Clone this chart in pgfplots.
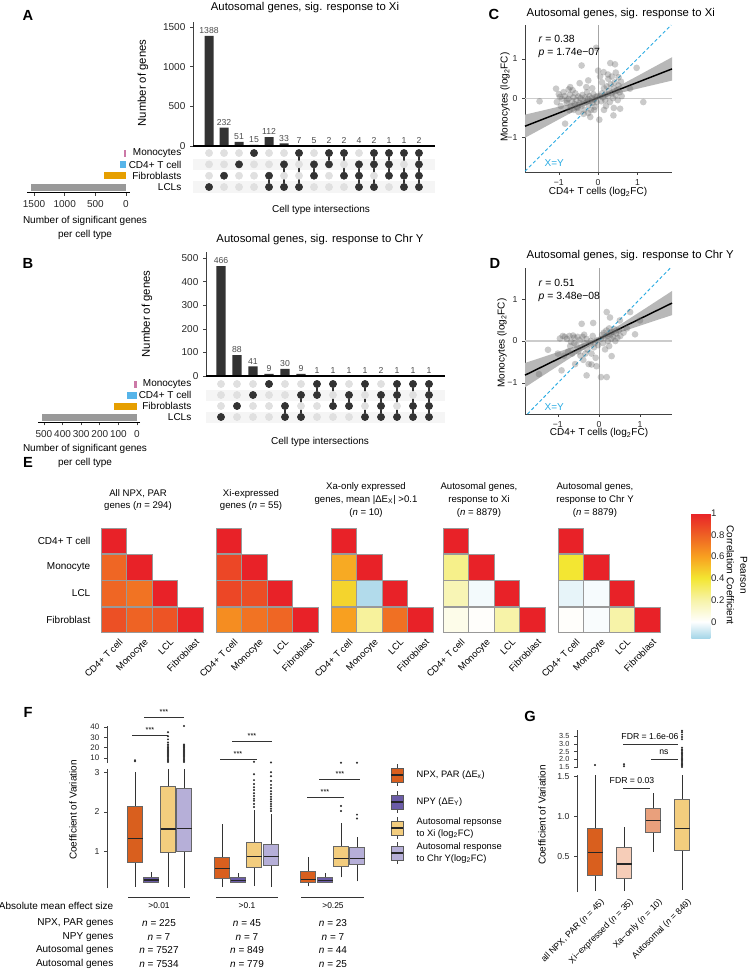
\documentclass[border=0pt]{standalone}
\usepackage{fontspec}
\setmainfont{Liberation Sans}
\usepackage{pgfplots}
\pgfplotsset{compat=1.18}
\definecolor{cM}{HTML}{CC79A7}
\definecolor{cC}{HTML}{56B4E9}
\definecolor{cF}{HTML}{E69F00}
\definecolor{cL}{HTML}{999999}
\definecolor{barc}{HTML}{333333}
\definecolor{xyc}{HTML}{29ABE2}
\definecolor{bOr}{HTML}{D95F1E}
\definecolor{bPu}{HTML}{6B5CA8}
\definecolor{bYe}{HTML}{F3CD7E}
\definecolor{bLa}{HTML}{B6AFD8}
\definecolor{gPk}{HTML}{F6CDB8}
\definecolor{gSa}{HTML}{E9A07C}
\newcommand\fs[2]{\fontsize{#1}{#2}\selectfont}
\pgfplotsset{
  colormap={pcc}{rgb255(0pt)=(166,214,232); rgb255(15pt)=(255,255,255); rgb255(35pt)=(247,243,168); rgb255(55pt)=(243,230,50); rgb255(75pt)=(248,160,32); rgb255(95pt)=(238,96,36); rgb255(115pt)=(232,34,40)},
  every axis/.append style={scale only axis, clip=false, tick align=outside, major tick length=2.2pt,
    tick style={black!75, line width=0.45pt}, axis line style={black!75, line width=0.45pt},
    ticklabel style={font=\fs{6.5}{7.5}, text=black!85},
    /pgf/number format/1000 sep={}, /pgf/number format/assume math mode=true},
  hm/.style={width=76.5pt, height=78.75pt, xmin=0.5, xmax=4.5, ymin=0.5, ymax=4.5, y dir=reverse,
    axis lines=none, xtick=\empty, ytick=\empty, colormap name=pcc, point meta min=-0.15, point meta max=1},
  hmcell/.style={scatter, only marks, mark=square*, mark size=9.56pt, point meta=explicit,
    scatter/use mapped color={draw=black!40, fill=mapped color}, mark options={line width=0.7pt}},
  dots/.style={only marks, mark=*, mark size=0.55pt, black!80},
  scat/.style={only marks, mark=*, mark size=2.5pt, mark options={draw opacity=0, fill=black!60, fill opacity=0.35}},
}
% box: left, centre, right, lower whisker, lower quartile, median, upper quartile, upper whisker, fill
\newcommand\bx[9]{%
  \addplot[black!80, line width=0.6pt] coordinates {(#2,#4)(#2,#5)};
  \addplot[black!80, line width=0.6pt] coordinates {(#2,#7)(#2,#8)};
  \addplot[fill=#9, draw=black!60, line width=0.6pt] coordinates {(#1,#5)(#3,#5)(#3,#7)(#1,#7)} -- cycle;
  \addplot[black!85, line width=0.9pt] coordinates {(#1,#6)(#3,#6)};
}
\begin{document}
\begin{tikzpicture}[x=0.75pt, y=-0.75pt]
\useasboundingbox (0,0) rectangle (748,979);
% ================= Panel A =================
\node[font=\bfseries\fs{11}{12}] at (28,15) {A};
\node[font=\fs{8.5}{10}] at (305,8) {Autosomal genes, sig. response to Xi};
\begin{axis}[at={(144.75pt,-109.5pt)}, anchor=south west, width=181.5pt, height=92.8pt,
  xmin=-0.07, xmax=16.07, ymin=0, ymax=1560, axis x line=none, axis y line*=left,
  ytick={0,500,1000,1500}, xtick=\empty, ticklabel style={font=\fs{7.5}{8.5}}]
\addplot[ybar, bar width=6.75pt, fill=barc, draw=none, nodes near coords,
  nodes near coords style={font=\fs{6.5}{7}, text=black!70, inner sep=1.5pt}]
  coordinates {(1,1388)(2,232)(3,51)(4,15)(5,112)(6,33)(7,7)(8,5)(9,2)(10,2)(11,4)(12,2)(13,1)(14,1)(15,2)};
\end{axis}
\draw[line width=1.2pt, black] (193,146)--(435,146);
\node[rotate=90, font=\fs{8.5}{10}] at (143,83) {Number of genes};
\begin{axis}[at={(144.75pt,-144.525pt)}, anchor=south west, width=181.5pt, height=34pt,
  xmin=-0.07, xmax=16.07, ymin=0.5, ymax=4.5, axis lines=none, xtick=\empty, ytick=\empty]
\fill[black!4] (axis cs:-0.07,2.5) rectangle (axis cs:16.07,3.5);
\fill[black!4] (axis cs:-0.07,0.5) rectangle (axis cs:16.07,1.5);
\addplot[only marks, mark=*, mark size=2.7pt, color=black!12] coordinates {
(1,1)(1,2)(1,3)(1,4)(2,1)(2,2)(2,3)(2,4)(3,1)(3,2)(3,3)(3,4)(4,1)(4,2)(4,3)(4,4)
(5,1)(5,2)(5,3)(5,4)(6,1)(6,2)(6,3)(6,4)(7,1)(7,2)(7,3)(7,4)(8,1)(8,2)(8,3)(8,4)
(9,1)(9,2)(9,3)(9,4)(10,1)(10,2)(10,3)(10,4)(11,1)(11,2)(11,3)(11,4)(12,1)(12,2)(12,3)(12,4)
(13,1)(13,2)(13,3)(13,4)(14,1)(14,2)(14,3)(14,4)(15,1)(15,2)(15,3)(15,4)};
\addplot[barc, line width=1.1pt, unbounded coords=jump] coordinates {
(5,1)(5,2)(nan,nan)(6,1)(6,3)(nan,nan)(7,1)(7,4)(nan,nan)(8,2)(8,3)(nan,nan)(9,3)(9,4)(nan,nan)
(10,2)(10,4)(nan,nan)(11,1)(11,3)(nan,nan)(12,1)(12,4)(nan,nan)(13,2)(13,4)(nan,nan)(14,1)(14,4)(nan,nan)(15,1)(15,4)};
\addplot[only marks, mark=*, mark size=2.7pt, color=barc] coordinates {
(1,1)(2,2)(3,3)(4,4)(5,2)(5,1)(6,3)(6,1)(7,4)(7,1)(8,3)(8,2)(9,4)(9,3)(10,4)(10,2)(11,3)(11,2)(11,1)
(12,4)(12,3)(12,1)(13,4)(13,3)(13,2)(14,4)(14,2)(14,1)(15,4)(15,3)(15,2)(15,1)};
\end{axis}
\begin{axis}[at={(20.25pt,-144.525pt)}, anchor=south west, width=77.25pt, height=34pt,
  x dir=reverse, xmin=-65, xmax=1615, ymin=0.5, ymax=4.5,
  axis x line*=bottom, axis y line=none, xtick={0,500,1000,1500}, ytick=\empty,
  ticklabel style={font=\fs{7.5}{8.5}}, axis line style={black, line width=0.6pt}]
\addplot[xbar, bar width=5.25pt, bar shift=0pt, fill=cM, draw=none] coordinates {(32,4)};
\addplot[xbar, bar width=5.25pt, bar shift=0pt, fill=cC, draw=none] coordinates {(100,3)};
\addplot[xbar, bar width=5.25pt, bar shift=0pt, fill=cF, draw=none] coordinates {(359,2)};
\addplot[xbar, bar width=5.25pt, bar shift=0pt, fill=cL, draw=none] coordinates {(1549,1)};
\end{axis}
\begin{scope}[font=\fs{7.5}{9}]
\node[anchor=east] at (186,153) {Monocytes};
\node[anchor=east] at (186,164.5) {CD4+ T cell};
\node[anchor=east] at (186,176) {Fibroblasts};
\node[anchor=east] at (186,187.5) {LCLs};
\node[align=center, font=\fs{7.5}{10}] at (85,228) {Number of significant genes\\per cell type};
\node at (321,210) {Cell type intersections};
\end{scope}
% ================= Panel B =================
\node[font=\bfseries\fs{11}{12}] at (28,263) {B};
\node[font=\fs{8.5}{10}] at (320,240) {Autosomal genes, sig. response to Chr Y};
\begin{axis}[at={(154.5pt,-282pt)}, anchor=south west, width=179.25pt, height=92.9pt,
  xmin=0.0625, xmax=15.0, ymin=0, ymax=525, axis x line=none, axis y line*=left,
  ytick={0,100,200,300,400,500}, xtick=\empty, ticklabel style={font=\fs{7.5}{8.5}}]
\addplot[ybar, bar width=7pt, fill=barc, draw=none, nodes near coords,
  nodes near coords style={font=\fs{6.5}{7}, text=black!70, inner sep=1.5pt}]
  coordinates {(1,466)(2,88)(3,41)(4,9)(5,30)(6,9)(7,1)(8,1)(9,1)(10,1)(11,2)(12,1)(13,1)(14,1)};
\end{axis}
\draw[line width=1.2pt, black] (206,376)--(445,376);
\node[rotate=90, font=\fs{8.5}{10}] at (147,314) {Number of genes};
\begin{axis}[at={(154.5pt,-316.875pt)}, anchor=south west, width=179.25pt, height=33pt,
  xmin=0.0625, xmax=15.0, ymin=0.5, ymax=4.5, axis lines=none, xtick=\empty, ytick=\empty]
\fill[black!4] (axis cs:0.0625,2.5) rectangle (axis cs:15,3.5);
\fill[black!4] (axis cs:0.0625,0.5) rectangle (axis cs:15,1.5);
\addplot[only marks, mark=*, mark size=2.7pt, color=black!12] coordinates {
(1,1)(1,2)(1,3)(1,4)(2,1)(2,2)(2,3)(2,4)(3,1)(3,2)(3,3)(3,4)(4,1)(4,2)(4,3)(4,4)
(5,1)(5,2)(5,3)(5,4)(6,1)(6,2)(6,3)(6,4)(7,1)(7,2)(7,3)(7,4)(8,1)(8,2)(8,3)(8,4)
(9,1)(9,2)(9,3)(9,4)(10,1)(10,2)(10,3)(10,4)(11,1)(11,2)(11,3)(11,4)(12,1)(12,2)(12,3)(12,4)
(13,1)(13,2)(13,3)(13,4)(14,1)(14,2)(14,3)(14,4)};
\addplot[barc, line width=1.1pt, unbounded coords=jump] coordinates {
(5,1)(5,2)(nan,nan)(6,1)(6,3)(nan,nan)(7,3)(7,4)(nan,nan)(8,2)(8,4)(nan,nan)(9,2)(9,3)(nan,nan)
(10,1)(10,4)(nan,nan)(11,1)(11,3)(nan,nan)(12,1)(12,4)(nan,nan)(13,1)(13,4)(nan,nan)(14,1)(14,4)};
\addplot[only marks, mark=*, mark size=2.7pt, color=barc] coordinates {
(1,1)(2,2)(3,3)(4,4)(5,2)(5,1)(6,3)(6,1)(7,4)(7,3)(8,4)(8,2)(9,3)(9,2)(10,4)(10,1)(11,3)(11,2)(11,1)
(12,4)(12,3)(12,1)(13,4)(13,2)(13,1)(14,4)(14,3)(14,2)(14,1)};
\end{axis}
\begin{axis}[at={(28.5pt,-316.875pt)}, anchor=south west, width=76.5pt, height=33pt,
  x dir=reverse, xmin=-16, xmax=532, ymin=0.5, ymax=4.5,
  axis x line*=bottom, axis y line=none, xtick={0,100,200,300,400,500}, ytick=\empty,
  ticklabel style={font=\fs{7.5}{8.5}}, axis line style={black, line width=0.6pt}]
\addplot[xbar, bar width=5.25pt, bar shift=0pt, fill=cM, draw=none] coordinates {(15,4)};
\addplot[xbar, bar width=5.25pt, bar shift=0pt, fill=cC, draw=none] coordinates {(56,3)};
\addplot[xbar, bar width=5.25pt, bar shift=0pt, fill=cF, draw=none] coordinates {(124,2)};
\addplot[xbar, bar width=5.25pt, bar shift=0pt, fill=cL, draw=none] coordinates {(511,1)};
\end{axis}
\begin{scope}[font=\fs{7.5}{9}]
\node[anchor=east] at (196,384) {Monocytes};
\node[anchor=east] at (196,394.5) {CD4+ T cell};
\node[anchor=east] at (196,406) {Fibroblasts};
\node[anchor=east] at (196,417) {LCLs};
\node[align=center, font=\fs{7.5}{10}] at (85,456) {Number of significant genes\\per cell type};
\node at (320,442) {Cell type intersections};
\end{scope}
% ================= Panel C =================
\node[font=\bfseries\fs{11}{12}] at (494,14) {C};
\node[anchor=west, font=\fs{8.5}{10}] at (522,14) {Autosomal genes, sig. response to Xi};
\begin{axis}[at={(393.75pt,-129pt)}, anchor=south west, width=110.25pt, height=110.25pt,
  xmin=-1.86, xmax=1.88, ymin=-1.88, ymax=1.86, axis x line*=bottom, axis y line*=left,
  xtick={-1,0,1}, xticklabels={−1,0,1}, ytick={-1,0,1}, yticklabels={−1,0,1}]
\addplot[black!35, line width=0.6pt] coordinates {(0,-1.88)(0,1.86)};
\addplot[black!20, line width=0.8pt] coordinates {(-1.86,0)(1.88,0)};
\addplot[fill=black!28, draw=none] coordinates {
(-1.86,-0.42)(-1.5,-0.336)(-1,-0.218)(-0.5,-0.097)(0,0.05)(0.5,0.293)(1,0.562)(1.5,0.834)(1.88,1.04)
(1.88,0.446)(1.5,0.356)(1,0.238)(0.5,0.117)(0,-0.03)(-0.5,-0.273)(-1,-0.542)(-1.5,-0.814)(-1.86,-1.01)} -- cycle;
\addplot[scat] table {
x y
-1.49 -0.08
-1.07 0.24
-0.84 -0.65
-0.73 -0.31
-0.71 0.28
-0.47 0.38
-0.42 0.83
-0.25 0.45
-0.05 1.28
0.0 0.70
0.14 0.66
0.26 0.49
0.31 0.89
0.43 0.86
0.52 0.53
0.98 0.77
0.81 0.24
1.15 -0.10
0.39 -0.44
0.56 -0.27
0.03 -0.55
-0.2 -0.48
-0.37 -0.40
-0.54 -0.23
-0.97 0.03
-1.05 -0.1
-0.8 -0.06
-0.92 -0.02
-0.85 0.05
-0.8 -0.12
-0.76 -0.02
-0.72 0.08
-0.7 -0.2
-0.66 -0.08
-0.63 0.02
-0.6 -0.15
-0.58 0.12
-0.55 -0.05
-0.52 -0.25
-0.5 0.04
-0.47 -0.12
-0.45 0.0
-0.42 -0.2
-0.4 0.08
-0.38 -0.06
-0.35 -0.3
-0.33 0.02
-0.3 -0.1
-0.28 0.15
-0.26 -0.02
-0.24 -0.18
-0.22 0.05
-0.2 -0.08
-0.18 -0.3
-0.16 0.0
-0.14 -0.12
-0.12 0.1
-0.1 -0.04
-0.08 -0.22
-0.06 0.03
-0.04 -0.1
-0.02 0.05
-0.65 0.2
-0.75 0.22
-0.88 0.15
-1.0 0.1
-0.95 -0.2
-0.3 0.28
-0.15 0.25
-0.5 -0.35
-0.25 -0.38
-0.1 -0.3
-0.62 -0.3
0.05 0.05
0.08 -0.08
0.1 0.12
0.12 0.02
0.15 0.25
0.18 -0.05
0.2 0.1
0.22 0.3
0.25 0.05
0.28 0.18
0.3 -0.1
0.32 0.35
0.35 0.12
0.38 0.0
0.4 0.25
0.42 0.4
0.45 0.08
0.48 0.2
0.5 -0.05
0.52 0.32
0.55 0.15
0.58 0.42
0.6 0.05
0.35 0.55
0.25 0.6
0.1 0.4
0.05 0.55
0.45 0.65
0.2 -0.2
0.4 -0.25
0.15 -0.3
};
\addplot[xyc, line width=0.7pt, dash pattern=on 2.5pt off 1.8pt] coordinates {(-1.86,-1.86)(1.86,1.86)};
\addplot[black, line width=1.1pt] coordinates {(-1.86,-0.715)(1.88,0.743)};
\end{axis}
\node[anchor=west, font=\fs{7.8}{9}] at (534,39) {\textit{r} = 0.38};
\node[anchor=west, font=\fs{7.8}{9}] at (534,53) {\textit{p} = 1.74e−07};
\node[anchor=west, font=\fs{7.5}{9}, text=xyc] at (540,163) {X=Y};
\node[font=\fs{7.5}{9}] at (598,192) {CD4+ T cells (log\textsubscript{2}FC)};
\node[rotate=90, font=\fs{7.5}{9}] at (505,97) {Monocytes (log\textsubscript{2}FC)};
% ================= Panel D =================
\node[font=\bfseries\fs{11}{12}] at (495,263) {D};
\node[anchor=west, font=\fs{8.5}{10}] at (522,256) {Autosomal genes, sig. response to Chr Y};
\begin{axis}[at={(393.75pt,-310.5pt)}, anchor=south west, width=110.25pt, height=109.5pt,
  xmin=-1.8, xmax=1.78, ymin=-1.74, ymax=1.74, axis x line*=bottom, axis y line*=left,
  xtick={-1,0,1}, xticklabels={−1,0,1}, ytick={-1,0,1}, yticklabels={−1,0,1}]
\addplot[black!35, line width=0.6pt] coordinates {(0,-1.74)(0,1.74)};
\addplot[black!20, line width=0.8pt] coordinates {(-1.8,0)(1.78,0)};
\addplot[fill=black!28, draw=none] coordinates {
(-1.8,-0.523)(-1.5,-0.427)(-1,-0.265)(-0.5,-0.101)(0,0.09)(0.5,0.379)(1,0.695)(1.5,1.013)(1.78,1.192)
(1.78,0.616)(1.5,0.527)(1,0.365)(0.5,0.201)(0,0.01)(-0.5,-0.279)(-1,-0.595)(-1.5,-0.913)(-1.8,-1.105)} -- cycle;
\addplot[scat] table {
x y
-1.46 -0.79
-1.24 -0.21
-0.91 -0.7
-0.95 0.06
-0.83 0.1
-0.63 0.13
-0.42 0.41
-0.14 0.43
-0.3 -0.82
-0.18 -0.56
-0.06 -0.6
0.05 -0.86
0.19 -0.86
0.31 -0.36
0.19 0.69
0.27 0.56
0.51 0.49
0.76 0.69
0.88 0.16
1.0 0.49
-0.88 0.12
-0.78 0.05
-0.72 0.12
-0.68 -0.02
-0.6 0.08
-0.55 -0.1
-0.52 0.1
-0.5 -0.25
-0.47 0.02
-0.45 -0.35
-0.42 -0.15
-0.4 0.1
-0.38 -0.45
-0.35 -0.05
-0.33 -0.3
-0.3 0.05
-0.28 -0.2
-0.25 -0.55
-0.22 -0.08
-0.2 0.0
-0.18 -0.3
-0.15 0.12
-0.12 -0.15
-0.1 -0.05
-0.08 -0.4
-0.05 0.02
-0.02 -0.1
-0.65 -0.3
-0.75 -0.25
-0.85 -0.35
-1.0 -0.3
-0.58 -0.55
-0.7 -0.12
-0.36 0.15
-0.6 -0.05
0.05 0.05
0.08 0.15
0.1 -0.05
0.12 0.2
0.15 0.08
0.18 0.25
0.2 0.12
0.22 0.0
0.25 0.3
0.28 0.15
0.3 0.05
0.32 0.22
0.35 0.1
0.38 0.28
0.4 0.0
0.42 0.18
0.45 0.08
0.48 0.25
0.52 0.12
0.6 0.2
0.25 -0.12
0.15 -0.2
0.68 0.3
};
\addplot[xyc, line width=0.7pt, dash pattern=on 2.5pt off 1.8pt] coordinates {(-1.74,-1.74)(1.74,1.74)};
\addplot[black, line width=1.1pt] coordinates {(-1.8,-0.814)(1.78,0.904)};
\end{axis}
\node[anchor=west, font=\fs{7.8}{9}] at (534,283) {\textit{r} = 0.51};
\node[anchor=west, font=\fs{7.8}{9}] at (534,297) {\textit{p} = 3.48e−08};
\node[anchor=west, font=\fs{7.5}{9}, text=xyc] at (540,407) {X=Y};
\node[font=\fs{7.5}{9}] at (599,433) {CD4+ T cells (log\textsubscript{2}FC)};
\node[rotate=90, font=\fs{7.5}{9}] at (502,343) {Monocytes (log\textsubscript{2}FC)};
% ================= Panel E =================
\node[font=\bfseries\fs{11}{12}] at (28,462) {E};
\begin{axis}[hm, at={(75.75pt,-474.75pt)}, anchor=south west]
\addplot[hmcell] table[meta=v] {
x y v
1 1 1
1 2 0.78
2 2 1
1 3 0.78
2 3 0.74
3 3 1
1 4 0.85
2 4 0.79
3 4 0.84
4 4 1
};
\end{axis}
\begin{axis}[hm, at={(162pt,-474.75pt)}, anchor=south west]
\addplot[hmcell] table[meta=v] {
x y v
1 1 1
1 2 0.88
2 2 1
1 3 0.88
2 3 0.86
3 3 1
1 4 0.66
2 4 0.74
3 4 0.78
4 4 1
};
\end{axis}
\begin{axis}[hm, at={(248.25pt,-474.75pt)}, anchor=south west]
\addplot[hmcell] table[meta=v] {
x y v
1 1 1
1 2 0.57
2 2 1
1 3 0.45
2 3 -0.13
3 3 1
1 4 0.6
2 4 0.22
3 4 0.75
4 4 1
};
\end{axis}
\begin{axis}[hm, at={(332.25pt,-474.75pt)}, anchor=south west]
\addplot[hmcell] table[meta=v] {
x y v
1 1 1
1 2 0.25
2 2 1
1 3 0.17
2 3 -0.02
3 3 1
1 4 0.05
2 4 0.01
3 4 0.2
4 4 1
};
\end{axis}
\begin{axis}[hm, at={(418.5pt,-474.75pt)}, anchor=south west, colorbar,
  colorbar style={at={(parent axis.north east)}, anchor=north west, xshift=15pt, yshift=11.25pt,
    width=11.25pt, height=93.75pt, ytick={0,0.2,0.4,0.6,0.8,1}, major tick length=0pt,
    yticklabel style={font=\fs{7.2}{8}}, axis line style={draw=none}}]
\addplot[hmcell] table[meta=v] {
x y v
1 1 1
1 2 0.4
2 2 1
1 3 -0.04
2 3 -0.015
3 3 1
1 4 0.01
2 4 -0.01
3 4 0.2
4 4 1
};
\end{axis}
\node[rotate=-90, align=center, font=\fs{7.5}{10}] at (737,575) {Pearson\\Correlation Coefficient};
\begin{scope}[font=\fs{7.5}{9}]
\node[anchor=east] at (95,541) {CD4+ T cell};
\node[anchor=east] at (95,567) {Monocyte};
\node[anchor=east] at (95,593) {LCL};
\node[anchor=east] at (95,620) {Fibroblast};
\end{scope}
\foreach \xo in {101,216,331,443,558} {
  \node[anchor=north east, rotate=45, font=\fs{7}{8}, inner sep=0.5pt] at (\xo+17.5,637) {CD4+ T cell};
  \node[anchor=north east, rotate=45, font=\fs{7}{8}, inner sep=0.5pt] at (\xo+43,637) {Monocyte};
  \node[anchor=north east, rotate=45, font=\fs{7}{8}, inner sep=0.5pt] at (\xo+68.5,637) {LCL};
  \node[anchor=north east, rotate=45, font=\fs{7}{8}, inner sep=0.5pt] at (\xo+94,637) {Fibroblast};
}
\begin{scope}[font=\fs{7.2}{9.4}]
\node[align=center] at (138,500) {All NPX, PAR\\genes (\textit{n} = 294)};
\node[align=center] at (251,500) {Xi-expressed\\genes (\textit{n} = 55)};
\node[align=center] at (366,500) {Xa-only expressed\\genes, mean |ΔE\textsubscript{X}| >0.1\\(\textit{n} = 10)};
\node[align=center] at (479,500) {Autosomal genes,\\response to Xi\\(\textit{n} = 8879)};
\node[align=center] at (595,500) {Autosomal genes,\\response to Chr Y\\(\textit{n} = 8879)};
\end{scope}
% ================= Panel F =================
\node[font=\bfseries\fs{11}{12}] at (28,712) {F};
\begin{axis}[at={(80.25pt,-666pt)}, anchor=south west, width=197.25pt, height=89.25pt,
  xmin=107, xmax=370, ymin=0.08, ymax=3.08, axis x line=none, axis y line*=left,
  ytick={1,2,3}, xtick=\empty]
\bx{127.5}{135}{142.5}{0.11}{0.73}{1.32}{2.15}{3.0}{bOr}
\bx{143.5}{151}{158.5}{0.22}{0.23}{0.28}{0.34}{0.48}{bPu}
\bx{160.5}{168}{175.5}{0.11}{0.97}{1.57}{2.63}{3.08}{bYe}
\bx{176.5}{184}{191.5}{0.08}{1.01}{1.58}{2.58}{3.08}{bLa}
\bx{214.5}{222}{229.5}{0.1}{0.32}{0.58}{0.86}{1.7}{bOr}
\bx{230.5}{238}{245.5}{0.22}{0.23}{0.26}{0.34}{0.47}{bPu}
\bx{246.5}{254}{261.5}{0.13}{0.61}{0.87}{1.22}{2.05}{bYe}
\bx{263.5}{271}{278.5}{0.1}{0.65}{0.87}{1.19}{1.95}{bLa}
\bx{300.5}{308}{315.5}{0.12}{0.21}{0.29}{0.5}{0.87}{bOr}
\bx{317.5}{325}{332.5}{0.22}{0.23}{0.27}{0.34}{0.47}{bPu}
\bx{333.5}{341}{348.5}{0.35}{0.62}{0.82}{1.12}{1.72}{bYe}
\bx{349.5}{357}{364.5}{0.25}{0.67}{0.82}{1.1}{1.37}{bLa}
\addplot[dots] coordinates {
(254,2.12)(254,2.2)(254,2.28)(254,2.33)(254,2.4)(254,2.47)(254,2.55)(254,2.62)(254,2.7)(254,2.8)(254,2.95)
(271,2.02)(271,2.08)(271,2.14)(271,2.2)(271,2.26)(271,2.32)(271,2.38)(271,2.45)(271,2.52)(271,2.6)(271,2.68)(271,2.78)(271,2.9)(271,3.0)
(341,2.02)(341,2.15)(357,1.83)(357,1.93)};
\end{axis}
\begin{axis}[at={(80.25pt,-572.25pt)}, anchor=south west, width=197.25pt, height=27.75pt,
  xmin=107, xmax=370, ymin=5, ymax=41, axis x line=none, axis y line*=left,
  ytick={10,20,30,40}, xtick=\empty, ticklabel style={font=\fs{6}{6.5}}]
\addplot[dots] coordinates {
(135,6.8)(135,7.6)
(168,6)(168,7)(168,8)(168,9)(168,10)(168,11)(168,12)(168,13)(168,14)(168,15)(168,16)(168,17)(168,18)(168,19)(168,20)(168,21.5)(168,23)(168,25)(168,28)(168,31)(168,35)
(184,6)(184,7)(184,8)(184,9)(184,10)(184,11)(184,12)(184,13)(184,14)(184,15)(184,16)(184,17)(184,18)(184,19)(184,20)(184,21)(184,22)(184,23)(184,41)
(254,6.2)(271,5.6)(341,5.3)(357,5.3)};
\end{axis}
\begin{scope}[black!80, line width=0.6pt]
\draw (132,735)--(168,735);
\draw (144,717)--(184,717);
\draw (220,759)--(257,759);
\draw (232,741)--(272,741);
\draw (319,779)--(360,779);
\draw (307,797)--(344,797);
\draw (128,897)--(190,897);
\draw (216,897)--(278,897);
\draw (301,897)--(364,897);
\end{scope}
\begin{scope}[font=\fs{5.5}{6}]
\node at (150,730) {***};
\node at (164,712) {***};
\node at (238,754) {***};
\node at (252,736) {***};
\node at (340,774) {***};
\node at (325,792) {***};
\end{scope}
\node[rotate=90, font=\fs{7.5}{9}] at (73,810) {Coefficient of Variation};
\begin{scope}[font=\fs{7.5}{9}]
\node[anchor=east] at (118,906) {Absolute mean effect size};
\node[anchor=east] at (118,923) {NPX, PAR genes};
\node[anchor=east] at (118,937) {NPY genes};
\node[anchor=east] at (118,950) {Autosomal genes};
\node[anchor=east] at (118,964) {Autosomal genes};
\node at (159,923) {\textit{n} = 225};
\node at (247,923) {\textit{n} = 45};
\node at (333,923) {\textit{n} = 23};
\node at (159,937) {\textit{n} = 7};
\node at (247,937) {\textit{n} = 7};
\node at (333,937) {\textit{n} = 7};
\node at (159,950) {\textit{n} = 7527};
\node at (247,950) {\textit{n} = 849};
\node at (333,950) {\textit{n} = 44};
\node at (159,964) {\textit{n} = 7534};
\node at (247,964) {\textit{n} = 779};
\node at (333,964) {\textit{n} = 25};
\end{scope}
\begin{scope}[font=\fs{6.3}{7}]
\node at (159,906) {>0.01};
\node at (247,906) {>0.1};
\node at (333,906) {>0.25};
\end{scope}
\foreach \yy/\cc in {775/bOr, 802/bPu, 828/bYe, 853/bLa} {
  \draw[black!75, line width=0.6pt] (397,\yy-11)--(397,\yy+11);
  \filldraw[fill=\cc, draw=black!65, line width=0.6pt] (391,\yy-7) rectangle (403,\yy+7);
  \draw[black!85, line width=0.8pt] (391,\yy)--(403,\yy);
}
\begin{scope}[font=\fs{7}{9}]
\node[anchor=west] at (412,775) {NPX, PAR (ΔE\textsubscript{x})};
\node[anchor=west] at (412,802) {NPY (ΔE\textsubscript{Y})};
\node[anchor=west, align=left] at (412,828) {Autosomal repsonse\\to Xi (log\textsubscript{2}FC)};
\node[anchor=west, align=left] at (412,853) {Autosomal response\\to Chr Y(log\textsubscript{2}FC)};
\end{scope}
% ================= Panel G =================
\node[font=\bfseries\fs{11}{12}] at (530,716) {G};
\begin{axis}[at={(432.75pt,-669pt)}, anchor=south west, width=88.5pt, height=87.75pt,
  xmin=577, xmax=695, ymin=0.06, ymax=1.52, axis x line=none, axis y line*=left,
  ytick={0.5,1.0,1.5}, xtick=\empty,
  yticklabel style={/pgf/number format/.cd, fixed, fixed zerofill, precision=1}]
\bx{587.5}{595}{602.5}{0.07}{0.27}{0.55}{0.85}{1.52}{bOr}
\bx{616.5}{624}{631.5}{0.07}{0.23}{0.41}{0.62}{0.87}{gPk}
\bx{645.5}{653}{660.5}{0.56}{0.81}{0.95}{1.1}{1.3}{gSa}
\bx{674.5}{682}{689.5}{0.09}{0.58}{0.85}{1.21}{1.52}{bYe}
\end{axis}
\begin{axis}[at={(432.75pt,-576pt)}, anchor=south west, width=88.5pt, height=28.5pt,
  xmin=577, xmax=695, ymin=1.43, ymax=3.9, axis x line=none, axis y line*=left,
  ytick={1.5,2.0,2.5,3.0,3.5}, xtick=\empty, ticklabel style={font=\fs{5.5}{6}},
  yticklabel style={/pgf/number format/.cd, fixed, fixed zerofill, precision=1}]
\addplot[dots] coordinates {(595,1.62)(624,1.55)(624,1.68)
(682,1.5)(682,1.58)(682,1.66)(682,1.74)(682,1.82)(682,1.9)(682,1.98)(682,2.06)(682,2.14)(682,2.22)(682,2.3)(682,2.38)(682,2.46)(682,2.55)(682,2.63)(682,2.75)
(682,3.3)(682,3.45)(682,3.6)(682,3.75)(682,3.85)};
\end{axis}
\begin{scope}[black!80, line width=0.6pt]
\draw (623,744)--(678,744);
\draw (651,759)--(678,759);
\draw (623,788)--(650,788);
\end{scope}
\begin{scope}[font=\fs{6.5}{7}]
\node at (650,737) {FDR = 1.6e-06};
\node at (664,752) {ns};
\node at (632,781) {FDR = 0.03};
\end{scope}
\node[rotate=90, font=\fs{7.5}{9}] at (542,815) {Coefficient of Variation};
\begin{scope}[font=\fs{6.6}{7.5}]
\node[anchor=north east, rotate=45, inner sep=0.5pt] at (600,897) {all NPX, PAR (\textit{n} = 45)};
\node[anchor=north east, rotate=45, inner sep=0.5pt] at (629,897) {Xi−expressed (\textit{n} = 35)};
\node[anchor=north east, rotate=45, inner sep=0.5pt] at (658,897) {Xa−only (\textit{n} = 10)};
\node[anchor=north east, rotate=45, inner sep=0.5pt] at (687,897) {Autosomal (\textit{n} = 849)};
\end{scope}
\end{tikzpicture}
\end{document}
